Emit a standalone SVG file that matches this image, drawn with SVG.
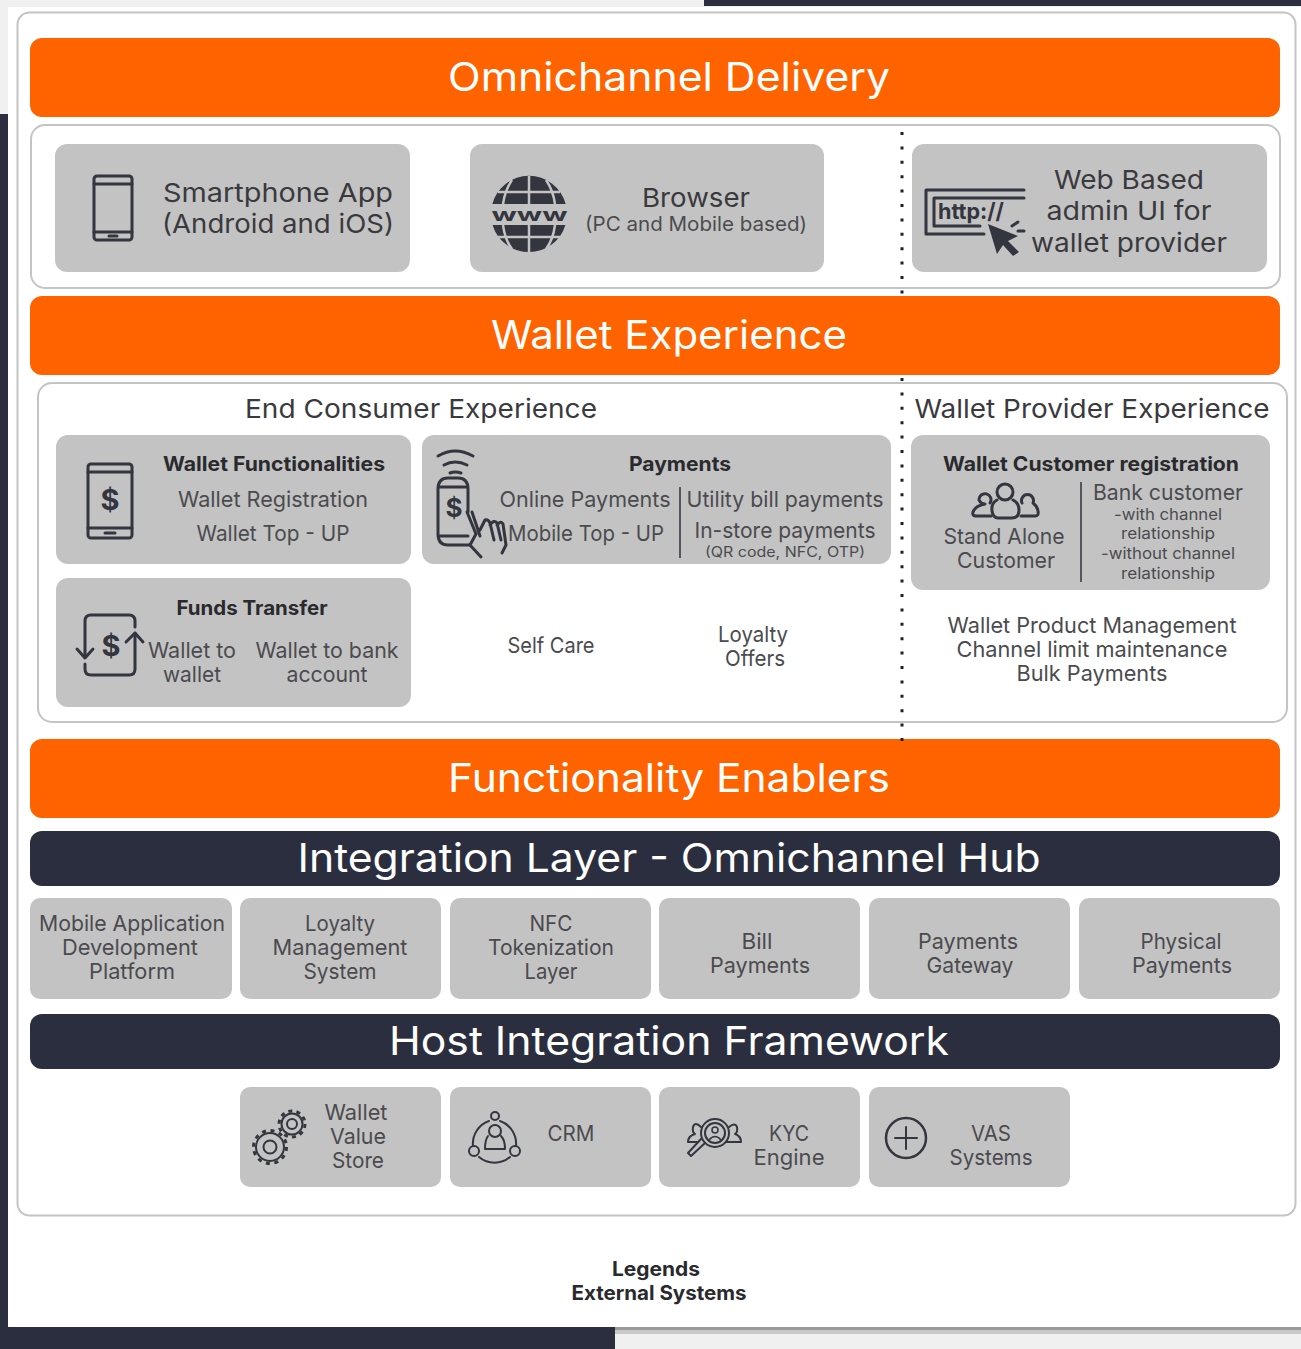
<svg xmlns="http://www.w3.org/2000/svg" width="1301" height="1349" viewBox="0 0 1301 1349">
<style>
text{font-family:"Inter","Open Sans","Liberation Sans",sans-serif;text-anchor:middle;fill:#4b4b4f;font-size:22px}
.bar{fill:#ff6300}
.dark{fill:#2b2e3e}
.panel{fill:#fff;stroke:#c4c4c4;stroke-width:2}
.box{fill:#c3c3c3}
.h{fill:#fff;font-size:39px}
.b{font-weight:700;fill:#2a2a2e;font-size:20px}
.s{font-size:16px}
.xs{font-size:14px}
.t{fill:#3a3a3e;font-size:26px}
.i{fill:none;stroke:#33353f;stroke-width:3;stroke-linecap:round;stroke-linejoin:round}
.f{fill:#33353f}
.sep{stroke:#55565c;stroke-width:2}
.dot{stroke:#1f2029;stroke-width:3;stroke-dasharray:3 11.4;fill:none}
</style>
<g id="background">
<rect width="1301" height="1349" fill="#f0f0f0"/>
<rect x="704" width="597" height="6" fill="#2b2e3e"/>
<rect y="114" width="8" height="1235" fill="#2b2e3e"/>
<rect y="1327" width="615" height="22" fill="#2b2e3e"/>
<rect x="8" y="7" width="1293" height="1320" fill="#fff"/>
<rect x="615" y="1327" width="686" height="3" fill="#9a9a9a"/>
<rect x="615" y="1330" width="686" height="4" fill="#c8c8c8"/>
</g>
<g id="outer-panel"><rect class="panel" x="17.5" y="12.500" width="1278" height="1203" rx="12"/></g>

<g id="omnichannel-delivery"><rect class="bar" x="30" y="38" width="1250" height="79" rx="12"/><text class="h" x="669" y="91" textLength="442" lengthAdjust="spacingAndGlyphs">Omnichannel Delivery</text></g>
<g id="delivery-panel"><rect class="panel" x="31" y="125" width="1249" height="163" rx="14"/></g>
<g id="smartphone-app"><rect class="box" x="55" y="144" width="355" height="128" rx="12"/>
<rect class="i" x="94" y="176" width="38" height="64" rx="3"/><path class="i" d="M94 184H132M94 232H132"/><path class="i" d="M109 236H117"/>
<text class="t" x="278" y="202" textLength="230" lengthAdjust="spacingAndGlyphs">Smartphone App</text><text class="t" x="278" y="233" textLength="232" lengthAdjust="spacingAndGlyphs">(Android and iOS)</text></g>
<g id="browser"><rect class="box" x="470" y="144" width="354" height="128" rx="12"/>
<path class="f" d="M492.300 204A38 38 0 0 1 565.700 204ZM492.600 225H565.400A38 38 0 0 1 492.600 225Z"/>
<path d="M529 176V204M529 225V252M512 180Q505 190 503 204M546 180Q553 190 555 204M503 225Q505 240 512 249M555 225Q553 240 546 249M498 192H560M498 237H560" stroke="#c3c3c3" stroke-width="2.500" fill="none"/>
<text x="529.500" y="221" style="font-size:18px;font-weight:700;fill:#33353f" textLength="76" lengthAdjust="spacingAndGlyphs">www</text>
<text class="t" x="696" y="207" textLength="108" lengthAdjust="spacingAndGlyphs">Browser</text><text x="696" y="231" textLength="222" lengthAdjust="spacingAndGlyphs" style="font-size:20px">(PC and Mobile based)</text></g>
<g id="admin-ui"><rect class="box" x="912" y="144" width="355" height="128" rx="12"/>
<path class="i" d="M1024 190H926V234H984M1024 198H934V226H980"/>
<text x="971" y="219" style="font-size:22px;font-weight:700;fill:#33353f" textLength="66" lengthAdjust="spacingAndGlyphs">http://</text>
<path class="f" d="M988 224L1018 236L1008 241L1019 252L1013 256L1003 245L997 254Z"/><path class="i" d="M1012 226L1018 222M1018 231H1024"/>
<text class="t" x="1129" y="189" textLength="150" lengthAdjust="spacingAndGlyphs">Web Based</text><text class="t" x="1129" y="220" textLength="165" lengthAdjust="spacingAndGlyphs">admin UI for</text><text class="t" x="1129" y="252" textLength="196" lengthAdjust="spacingAndGlyphs">wallet provider</text></g>

<g id="wallet-experience"><rect class="bar" x="30" y="296" width="1250" height="79" rx="12"/><text class="h" x="669" y="349" textLength="356" lengthAdjust="spacingAndGlyphs">Wallet Experience</text></g>
<g id="experience-panel"><rect class="panel" x="38" y="383" width="1249" height="339" rx="14"/>
<text class="t" x="421" y="418" textLength="352" lengthAdjust="spacingAndGlyphs">End Consumer Experience</text><text class="t" x="1092" y="418" textLength="355" lengthAdjust="spacingAndGlyphs">Wallet Provider Experience</text></g>

<g id="wallet-functionalities"><rect class="box" x="56" y="435" width="355" height="129" rx="12"/>
<rect class="i" x="88" y="464" width="44" height="74" rx="3"/><path class="i" d="M88 472H132M88 528H132M105 533H115"/>
<text x="110" y="510" style="font-size:29px;font-weight:700;fill:#33353f">$</text>
<text class="b" x="274" y="471" textLength="222" lengthAdjust="spacingAndGlyphs">Wallet Functionalities</text><text x="273" y="507" textLength="190" lengthAdjust="spacingAndGlyphs">Wallet Registration</text><text x="273" y="541" textLength="153" lengthAdjust="spacingAndGlyphs">Wallet Top - UP</text></g>
<g id="payments"><rect class="box" x="422" y="435" width="469" height="129" rx="12"/>
<path class="i" d="M438 456Q455 446 473 456M444 465Q455 459 467 465M450 473Q455 471 461 473"/>
<path class="i" d="M468 512V489Q468 478 458 478H448Q438 478 438 489V534Q438 545 448 545H470M438 487H468M438 536H468"/>
<text x="454" y="517" style="font-size:26px;font-weight:700;fill:#33353f">$</text>
<path class="i" d="M467 512L476 534L470 545L481 557M472 512L480 536M480 530L485 520Q488 519 490 523L494 540M490 525Q494 519 497 523L501 540M497 525Q501 520 503 524L506 545L502 553"/>
<path class="sep" d="M680 487V558"/>
<text class="b" x="680" y="471" textLength="102" lengthAdjust="spacingAndGlyphs">Payments</text>
<text x="585" y="507" textLength="171" lengthAdjust="spacingAndGlyphs">Online Payments</text><text x="586" y="541" textLength="156" lengthAdjust="spacingAndGlyphs">Mobile Top - UP</text>
<text x="785" y="507" textLength="197" lengthAdjust="spacingAndGlyphs">Utility bill payments</text><text x="785" y="538" textLength="181" lengthAdjust="spacingAndGlyphs">In-store payments</text><text class="xs" x="785" y="557" textLength="160" lengthAdjust="spacingAndGlyphs">(QR code, NFC, OTP)</text></g>
<g id="customer-registration"><rect class="box" x="911" y="435" width="359" height="155" rx="12"/>
<path class="sep" d="M1081 482V582"/>
<circle class="i" cx="1005" cy="492" r="8"/><path class="i" d="M997 500Q991 503 992 511Q993 518 998 518H1012Q1019 518 1019 510Q1019 503 1013 500"/>
<path class="i" d="M990 503A6 6 0 1 0 979 500Q981 504 985 504Q975 506 973 512Q972 516 976 516H991"/><path class="i" d="M1022 503A6 6 0 1 1 1033 503Q1037 506 1038 511Q1039 516 1035 516H1021"/>
<text class="b" x="1091" y="471" textLength="296" lengthAdjust="spacingAndGlyphs">Wallet Customer registration</text>
<text x="1004" y="544" textLength="121" lengthAdjust="spacingAndGlyphs">Stand Alone</text><text x="1006" y="568" textLength="98" lengthAdjust="spacingAndGlyphs">Customer</text>
<text x="1168" y="500" textLength="150" lengthAdjust="spacingAndGlyphs">Bank customer</text><text class="s" x="1168" y="520" textLength="108" lengthAdjust="spacingAndGlyphs">-with channel</text><text class="s" x="1168" y="539" textLength="94" lengthAdjust="spacingAndGlyphs">relationship</text><text class="s" x="1168" y="559" textLength="134" lengthAdjust="spacingAndGlyphs">-without channel</text><text class="s" x="1168" y="579" textLength="94" lengthAdjust="spacingAndGlyphs">relationship</text></g>
<g id="funds-transfer"><rect class="box" x="56" y="578" width="355" height="129" rx="12"/>
<path class="i" d="M85 657V621Q85 615 91 615H129Q135 615 135 621V627M85 664V669Q85 675 91 675H129Q135 675 135 669V633"/>
<path class="i" d="M77 649L85 658L93 649M126 642L135 633L143 642"/>
<text x="111" y="656" style="font-size:29px;font-weight:700;fill:#33353f">$</text>
<text class="b" x="252" y="615" textLength="151" lengthAdjust="spacingAndGlyphs">Funds Transfer</text>
<text x="192" y="658" textLength="88" lengthAdjust="spacingAndGlyphs">Wallet to</text><text x="192" y="682" textLength="58" lengthAdjust="spacingAndGlyphs">wallet</text>
<text x="327" y="658" textLength="143" lengthAdjust="spacingAndGlyphs">Wallet to bank</text><text x="327" y="682" textLength="81" lengthAdjust="spacingAndGlyphs">account</text></g>
<g id="self-care"><text x="551" y="653" textLength="87" lengthAdjust="spacingAndGlyphs">Self Care</text></g>
<g id="loyalty-offers"><text x="753" y="642" textLength="70" lengthAdjust="spacingAndGlyphs">Loyalty</text><text x="755" y="666" textLength="60" lengthAdjust="spacingAndGlyphs">Offers</text></g>
<g id="wallet-product"><text x="1092" y="633" textLength="289" lengthAdjust="spacingAndGlyphs">Wallet Product Management</text><text x="1092" y="657" textLength="271" lengthAdjust="spacingAndGlyphs">Channel limit maintenance</text><text x="1092" y="681" textLength="151" lengthAdjust="spacingAndGlyphs">Bulk Payments</text></g>

<g id="functionality-enablers"><rect class="bar" x="30" y="739" width="1250" height="79" rx="12"/><text class="h" x="669" y="792" textLength="442" lengthAdjust="spacingAndGlyphs">Functionality Enablers</text></g>
<g id="integration-layer"><rect class="dark" x="30" y="831" width="1250" height="55" rx="12"/><text class="h" x="669" y="872" textLength="743" lengthAdjust="spacingAndGlyphs">Integration Layer - Omnichannel Hub</text></g>
<g id="mobile-platform"><rect class="box" x="30" y="898" width="202" height="101" rx="10"/><text x="132" y="931" textLength="186" lengthAdjust="spacingAndGlyphs">Mobile Application</text><text x="130" y="955" textLength="136" lengthAdjust="spacingAndGlyphs">Development</text><text x="132" y="979" textLength="86" lengthAdjust="spacingAndGlyphs">Platform</text></g>
<g id="loyalty-management"><rect class="box" x="240" y="898" width="201" height="101" rx="10"/><text x="340" y="931" textLength="70" lengthAdjust="spacingAndGlyphs">Loyalty</text><text x="340" y="955" textLength="135" lengthAdjust="spacingAndGlyphs">Management</text><text x="340" y="979" textLength="73" lengthAdjust="spacingAndGlyphs">System</text></g>
<g id="nfc-tokenization"><rect class="box" x="450" y="898" width="201" height="101" rx="10"/><text x="551" y="931" textLength="43" lengthAdjust="spacingAndGlyphs">NFC</text><text x="551" y="955" textLength="126" lengthAdjust="spacingAndGlyphs">Tokenization</text><text x="551" y="979" textLength="53" lengthAdjust="spacingAndGlyphs">Layer</text></g>
<g id="bill-payments"><rect class="box" x="659" y="898" width="201" height="101" rx="10"/><text x="757" y="949" textLength="31" lengthAdjust="spacingAndGlyphs">Bill</text><text x="760" y="973" textLength="100" lengthAdjust="spacingAndGlyphs">Payments</text></g>
<g id="payments-gateway"><rect class="box" x="869" y="898" width="201" height="101" rx="10"/><text x="968" y="949" textLength="100" lengthAdjust="spacingAndGlyphs">Payments</text><text x="970" y="973" textLength="87" lengthAdjust="spacingAndGlyphs">Gateway</text></g>
<g id="physical-payments"><rect class="box" x="1079" y="898" width="201" height="101" rx="10"/><text x="1181" y="949" textLength="81" lengthAdjust="spacingAndGlyphs">Physical</text><text x="1182" y="973" textLength="100" lengthAdjust="spacingAndGlyphs">Payments</text></g>

<g id="host-integration"><rect class="dark" x="30" y="1014" width="1250" height="55" rx="12"/><text class="h" x="669" y="1055" textLength="560" lengthAdjust="spacingAndGlyphs">Host Integration Framework</text></g>
<g id="wallet-value-store"><rect class="box" x="240" y="1087" width="201" height="100" rx="10"/>
<circle cx="270" cy="1147" r="14" fill="none" stroke="#33353f" stroke-width="2"/><circle cx="270" cy="1147" r="16.500" fill="none" stroke="#33353f" stroke-width="3" stroke-dasharray="4 4.640"/><circle class="i" cx="270" cy="1147" r="6.500" style="stroke-width:2"/>
<circle cx="292" cy="1124" r="10.500" fill="none" stroke="#33353f" stroke-width="2"/><circle cx="292" cy="1124" r="13" fill="none" stroke="#33353f" stroke-width="3" stroke-dasharray="4 4.170"/><circle class="i" cx="292" cy="1124" r="5" style="stroke-width:2"/>
<text x="356" y="1120" textLength="63" lengthAdjust="spacingAndGlyphs">Wallet</text><text x="358" y="1144" textLength="56" lengthAdjust="spacingAndGlyphs">Value</text><text x="358" y="1168" textLength="52" lengthAdjust="spacingAndGlyphs">Store</text></g>
<g id="crm"><rect class="box" x="450" y="1087" width="201" height="100" rx="10"/>
<path class="i" d="M489 1121A24 24 0 0 0 473 1146M479 1157A24 24 0 0 0 510 1157M516 1146A24 24 0 0 0 500 1121" style="stroke-width:2"/>
<circle class="i" cx="495" cy="1116" r="4" style="stroke-width:2"/><circle class="i" cx="474" cy="1151" r="5" style="stroke-width:2"/><circle class="i" cx="515" cy="1151" r="5" style="stroke-width:2"/>
<circle class="i" cx="495" cy="1131" r="6" style="stroke-width:2"/><path class="i" d="M488 1136Q485 1140 485 1149H505Q505 1140 501 1136" style="stroke-width:2"/>
<text x="571" y="1141" textLength="47" lengthAdjust="spacingAndGlyphs">CRM</text></g>
<g id="kyc-engine"><rect class="box" x="659" y="1087" width="201" height="100" rx="10"/>
<circle class="i" cx="715" cy="1133" r="14" style="stroke-width:2"/><circle class="i" cx="715" cy="1133" r="10" style="stroke-width:2"/><circle class="i" cx="715" cy="1130" r="3" style="stroke-width:1.500"/><path class="i" d="M709 1140Q715 1133 721 1140" style="stroke-width:1.500"/>
<path class="i" d="M705 1143L691 1156L688 1153L701 1139" style="stroke-width:2"/>
<path class="i" d="M701 1127Q695 1121 693 1127Q692 1132 695 1134Q688 1136 688 1142H698M729 1127Q735 1122 737 1127Q738 1132 735 1134Q741 1136 741 1142H726" style="stroke-width:2"/>
<text x="789" y="1141" textLength="40" lengthAdjust="spacingAndGlyphs">KYC</text><text x="789" y="1165" textLength="71" lengthAdjust="spacingAndGlyphs">Engine</text></g>
<g id="vas-systems"><rect class="box" x="869" y="1087" width="201" height="100" rx="10"/>
<circle class="i" cx="906" cy="1138" r="20" style="stroke-width:2.500"/><path class="i" d="M906 1127V1149M895 1138H917" style="stroke-width:2"/>
<text x="991" y="1141" textLength="40" lengthAdjust="spacingAndGlyphs">VAS</text><text x="991" y="1165" textLength="83" lengthAdjust="spacingAndGlyphs">Systems</text></g>

<g id="legend"><text class="b" x="656" y="1276" textLength="88" lengthAdjust="spacingAndGlyphs">Legends</text><text class="b" x="659" y="1300" textLength="175" lengthAdjust="spacingAndGlyphs">External Systems</text></g>
<g id="connectors"><path class="dot" d="M902 132V295"/><path class="dot" d="M902 378V741"/></g>
</svg>
